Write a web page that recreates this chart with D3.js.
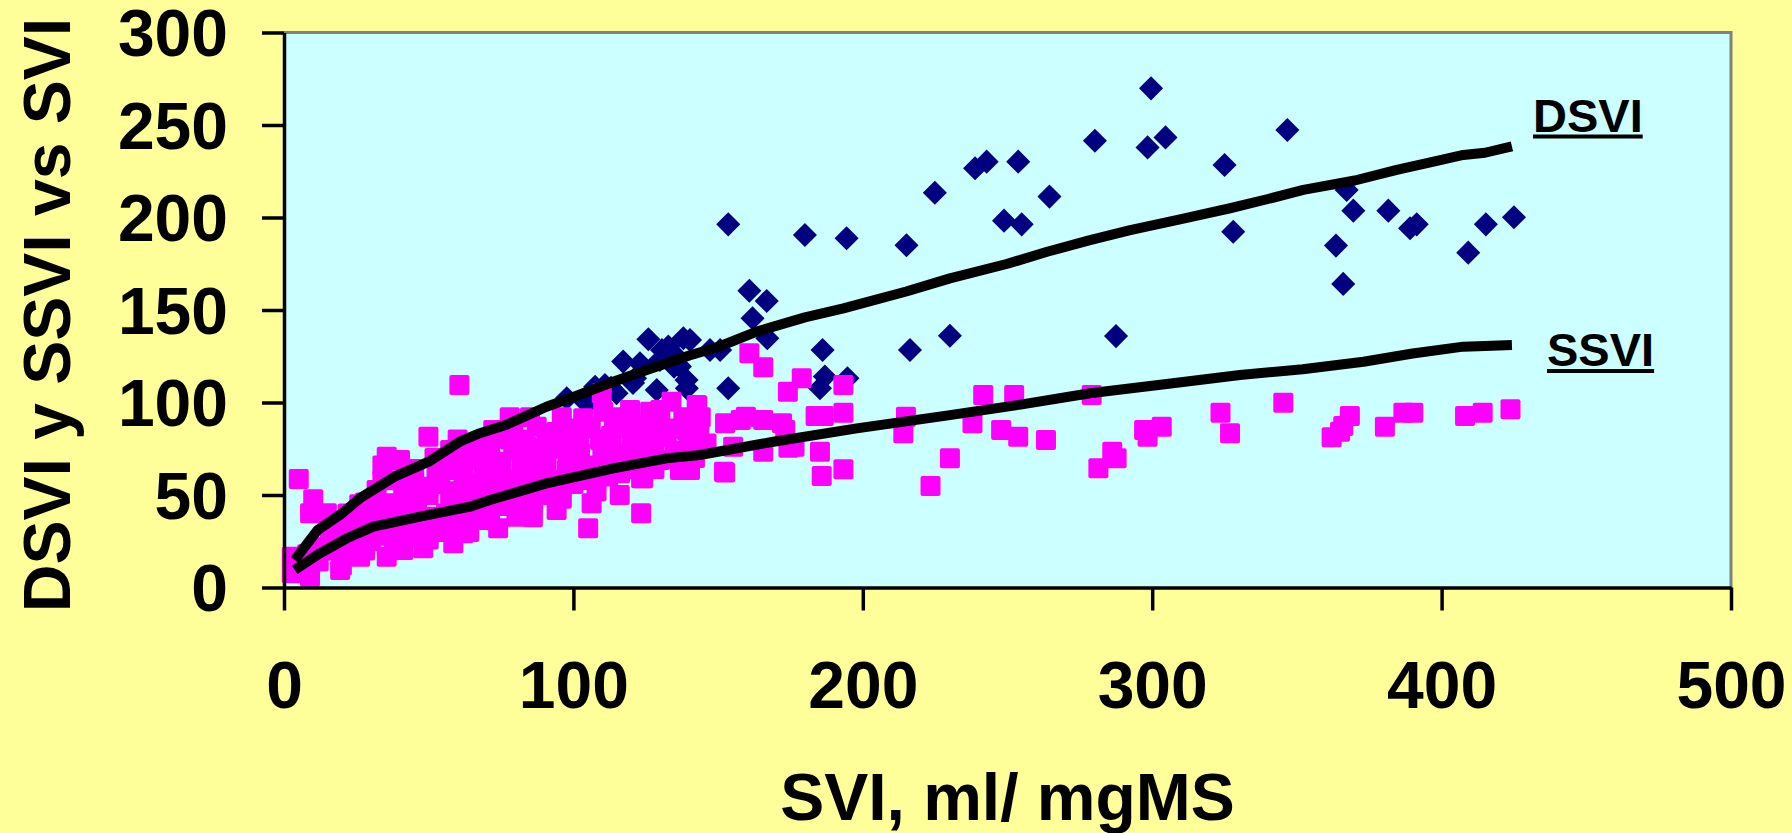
<!DOCTYPE html>
<html>
<head>
<meta charset="utf-8">
<script src="https://cdn.jsdelivr.net/npm/d3@7"></script>
<style>
  body { margin: 0; background: #FFFF99; }
  svg { display: block; }
  text { font-family: "Liberation Sans", Arial, sans-serif; font-weight: bold; }
</style>
</head>
<body>
<div id="chart"></div>
<script>
var width = 1792, height = 833;
var margin = {top: 32.5, right: 61, bottom: 245.5, left: 284};

// tick values
var xTicks = [0, 100, 200, 300, 400, 500];
var yTicks = [0, 50, 100, 150, 200, 250, 300];

// DSVI scatter (blue diamonds) [SVI, DSVI]
var dsviPts = [
  [97.7,102.3],[103.4,101.4],[106,101],[107.5,108.5],[110.9,109.5],[113,108],[114.9,105],[117.2,122.1],
  [120.6,110.5],[121.3,113.1],[123,121.2],[125.9,134.2],[128.8,106.8],[129.9,123],[130.6,128.4],
  [132.8,130.2],[134.5,126.6],[134.8,119.4],[136.8,119.4],[138,134.7],[139.1,112.2],[139.2,107.7],
  [140.3,133.8],[147.2,128.4],[150.7,128.4],[153.5,107.7],[153.5,196.3],[160.8,160.4],[161.9,145.5],
  [166.8,154.9],[167,134.7],[180,190.5],[185.2,107.7],[186.1,128.4],[186.9,114],[194.4,188.8],
  [194.7,113.1],[215.1,185],[216.3,128.4],[224.9,213.4],[230.1,136.1],[238.8,226.6],[242.8,230.2],
  [248.8,198.3],[253.7,230.2],[254.9,196.3],[264.5,211.3],[280.2,241.5],[287.5,135.9],[298.4,237.9],
  [299.6,269.8],[304.6,243.3],[325,228.4],[328,192.3],[346.7,247.3],[363.5,184.8],[366,164.1],
  [367.2,214.9],[369.5,203.7],[381.6,203.7],[389.1,194.2],[391.4,196.3],[409.2,181],[415.3,196.3],
  [425,200.1]
];

// SSVI scatter (magenta squares) [SVI, SSVI]
var ssviPts = [
  [60.6,109.5],[5.1,58.6],[10.1,47.7],[9,40.1],[14.8,40.1],[2.7,16.6],[2.7,7.7],[9,5.8],[19.4,9.5],
  [26.3,16.6],[35.5,16.6],[41.2,20.3],[48.1,21.2],[58.5,23.9],[62,29.3],[15.9,25.7],[35.5,70.7],
  [40.1,68.9],[49.9,81.5],[57.4,74.3],[64.3,72.5],[32,52.7],[33.2,43.7],[41.2,50.9],[47,54.5],
  [52.7,59.9],[59.6,63.5],[66.6,68.9],[68.9,61.7],[44.7,36.5],[52.7,38.3],[59.6,32.9],[68.9,36.5],
  [27.4,38.3],[20.5,29.3],[66.6,47.3],[68.9,41.9],[57.4,47.3],[36.6,45.5],[28.6,32.9],[71.2,79.7],
  [18,20],[22,32],[30,40],[38,30],[42,42],[50,32],[56,40],[62,44],[70,55],[26,45],[34,58],[44,64],
  [52,70],[60,80],[66,76],[34,66],[40,58],[45,62],[50,50],[55,66],[62,58],[64,52],[24,22],[30,25],
  [45,28],[55,30],[65,38],[12,14],[6,12],
  [20,12],[25,30],[28,20],[32,28],[36,36],[38,24],[42,30],[46,46],[48,34],[50,26],[54,36],[54,56],
  [58,52],[60,40],[62,68],[64,30],[66,56],[70,44],[72,50],[72,68],[74,32],[76,44],[76,58],[78,80],
  [80,50],[82,44],[84,60],[84,76],[86,38],[88,66],[90,50],[90,74],[92,58],[94,84],[96,48],[98,70],
  [100,56],[102,78],[104,64],[106,86],[108,52],[110,70],[112,60],[114,90],[116,50],[118,68],
  [120,86],[122,64],[126,80],[128,64],[130,96],[134,86],[136,70],[138,92],[142,70],[144,92],
  [16,32],[22,40],[28,46],[12,22],[8,18],
  [109.8,105],[133.9,100.4],[142.6,98.6],[119.6,95.9],[126.5,95],[110.3,95],[103.4,91.5],[117.2,88.8],
  [124.1,87.8],[139.1,85.1],[98.2,80.6],[109.2,79.7],[132.2,81.5],[72.3,85.1],[79.2,86.9],[87.3,86.9],
  [90.7,81.5],[79.2,74.3],[71.2,74.3],[86.1,72.5],[102.3,72.5],[113.8,72.5],[123,70.7],[129.9,68.9],
  [136.8,63.5],[124.1,59],[116.1,61.7],[105.7,58.1],[97.7,63.5],[90.7,65.3],[71.2,61.7],[79.2,58.1],
  [86.1,47.3],[71.2,38.3],[80.3,38.3],[94.2,41.9],[106.3,45.5],[105.1,32],[123.4,40.1],
  [75,68],[83,80],[95,75],[100,86],[108,66],[113,82],[120,78],[128,76],[135,74],[140,78],[95,55],
  [88,55],[76,50],[82,65],[100,68],[115,92],[130,90],[96,92],[85,92],[78,92],
  [160.8,126.6],[165.6,119],[178.9,113.1],[174.1,105.8],[193.3,109.5],[193.3,94.5],[183.7,92.7],
  [186.5,92.7],[142.8,98.3],[142.8,85.1],[152.4,88.8],[159.6,92.3],[165.6,90.5],[173.2,85.1],
  [155.2,76.1],[165.6,73.4],[174.3,75.6],[185.2,73.4],[214.9,92.3],[214,83.4],[152.4,62.1],
  [185.8,60.3],[193.3,63.9],[230.1,69.8],[223.4,54.9],[140.3,63.5],[146,77.9],[176.4,76.1],
  [172.1,88.8],[157.8,90.5],[143.5,85.1],[123.4,59],[152,62.6],
  [241.6,104.1],[252.3,104.1],[279.1,104.1],[237.9,88.8],[247.8,85.1],[253.7,81.5],[263.3,79.7],
  [297.2,85.1],[298.4,81.5],[303.3,86.9],[286.2,73.4],[287.7,69.8],[281.4,64.4],[323.6,94.5],
  [326.9,83.4],
  [345.3,99.9],[368.3,92.7],[366,87.3],[364.9,84.2],[362,81.2],[380.4,86.9],[386.8,94.5],
  [390.2,94.5],[408.1,92.7],[414.2,94.5],[423.8,96.3]
];

// fitted curves
var dsviLine = [
  [3.7,14.9],[11.6,31],[20,40],[26.2,48.2],[38.2,59.9],[50,68],[60.7,78.8],[67.7,83.4],[76.6,87.8],
  [90.7,97.7],[100,103],[113.8,111.2],[125.3,117.6],[140.3,125.5],[150,130],[163.3,138.3],[180,146],
  [193.3,150.9],[215,160],[230.1,167.1],[250,175],[263.7,181.5],[278.5,187.8],[292.4,193.2],
  [309.6,199],[326.9,205],[340,210],[352.2,214.9],[370,220],[384.5,225.7],[398,230.5],[407.5,233.8],
  [415,235],[424.3,238.5]
];
var ssviLine = [
  [3.7,9.5],[12.4,18.5],[21.7,26.6],[30.9,32.9],[47,38.3],[64.3,43.7],[71.2,47.3],[90.7,56.3],
  [113.8,64.4],[132.2,69.8],[143.7,71.6],[169.1,78.8],[197.9,86],[230.1,93.2],[255,99],[278.5,105],
  [305,110],[330.3,114.9],[352,118],[373,122],[390,126.5],[407.5,130.2],[415,130.6],[424.3,131.1]
];

var svg = d3.select('#chart').append('svg')
  .attr('width', width)
  .attr('height', height);

svg.append('rect')
  .attr('width', width).attr('height', height)
  .attr('fill', '#FFFF99');

var pw = width - margin.left - margin.right,
    ph = height - margin.top - margin.bottom;

var x = d3.scaleLinear().domain([0, 500]).range([0, pw]);
var y = d3.scaleLinear().domain([0, 300]).range([ph, 0]);

var g = svg.append('g').attr('transform', 'translate(' + margin.left + ',' + margin.top + ')');

g.append('rect')
  .attr('width', pw).attr('height', ph)
  .attr('fill', '#CCFFFF');

// grey frame on top and right
g.append('path')
  .attr('d', 'M0,0H' + pw + 'V' + ph)
  .attr('fill', 'none')
  .attr('stroke', '#808080')
  .attr('stroke-width', 3);

// points: diamonds first, squares over them
g.selectAll('.dia').data(dsviPts).enter().append('path')
  .attr('class', 'dia')
  .attr('d', d3.symbol().type(d3.symbolSquare).size(290))
  .attr('transform', function(d) { return 'translate(' + x(d[0]) + ',' + y(d[1]) + ') rotate(45)'; })
  .attr('fill', '#000080');

g.selectAll('.sq').data(ssviPts).enter().append('rect')
  .attr('class', 'sq')
  .attr('x', function(d) { return x(d[0]) - 10; })
  .attr('y', function(d) { return y(d[1]) - 10; })
  .attr('width', 20).attr('height', 20)
  .attr('rx', 2)
  .attr('fill', '#FF00FF');

var line = d3.line()
  .x(function(d) { return x(d[0]); })
  .y(function(d) { return y(d[1]); });

[dsviLine, ssviLine].forEach(function(pts) {
  g.append('path')
    .datum(pts)
    .attr('d', line)
    .attr('fill', 'none')
    .attr('stroke', '#000')
    .attr('stroke-width', 10)
    .attr('stroke-linejoin', 'round');
});

// axes
var xAxis = g.append('g')
  .attr('transform', 'translate(0,' + ph + ')')
  .call(d3.axisBottom(x).tickValues(xTicks).tickSize(23).tickSizeOuter(0).tickPadding(51));
var yAxis = g.append('g')
  .call(d3.axisLeft(y).tickValues(yTicks).tickSize(22).tickSizeOuter(0).tickPadding(34));

[xAxis, yAxis].forEach(function(ax) {
  ax.select('.domain').attr('stroke', '#000').attr('stroke-width', 3.5);
  ax.selectAll('.tick line').attr('stroke', '#000').attr('stroke-width', 3.5);
  ax.selectAll('.tick text')
    .attr('fill', '#000')
    .style('font-size', '66px')
    .style('font-family', '"Liberation Sans", Arial, sans-serif')
    .style('font-weight', 'bold');
});
yAxis.selectAll('.tick text').attr('dy', '0.355em');

// axis titles
svg.append('text')
  .attr('x', margin.left + pw / 2)
  .attr('y', 820)
  .attr('text-anchor', 'middle')
  .style('font-size', '66px')
  .text('SVI, ml/ mgMS');

svg.append('text')
  .attr('transform', 'translate(70,' + (margin.top + ph / 2 + 5) + ') rotate(-90)')
  .attr('text-anchor', 'middle')
  .style('font-size', '66px')
  .text('DSVI y SSVI vs SVI');

// curve labels, underlined
var curveLabels = [
  {name: 'DSVI', x: 1533, y: 131.5},
  {name: 'SSVI', x: 1547, y: 366}
];
curveLabels.forEach(function(c) {
  var t = svg.append('text')
    .attr('x', c.x).attr('y', c.y)
    .style('font-size', '47px')
    .text(c.name);
  var bb = t.node().getBBox();
  svg.append('rect')
    .attr('x', bb.x).attr('y', c.y + 3)
    .attr('width', bb.width).attr('height', 4)
    .attr('fill', '#000');
});
</script>
</body>
</html>
